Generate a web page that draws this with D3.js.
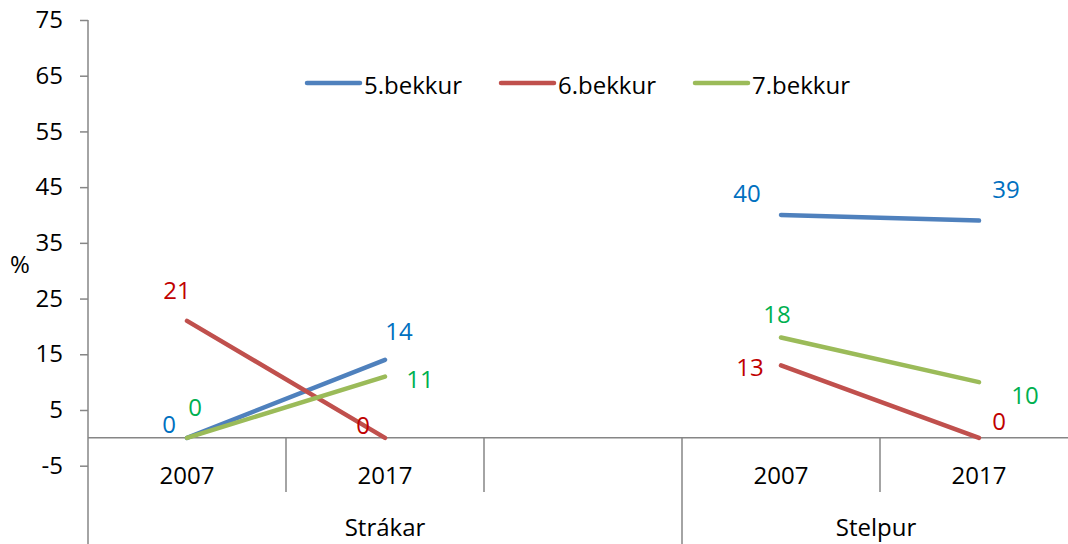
<!DOCTYPE html>
<html>
<head>
<meta charset="utf-8">
<script src="https://cdn.jsdelivr.net/npm/d3@7"></script>
<style>
  html, body { margin: 0; padding: 0; background: #fff; }
  svg { display: block; font-family: "Open Sans", "Noto Sans", sans-serif; }
</style>
</head>
<body>
<svg id="chart" width="1068" height="544"></svg>
<script>
// Share of pupils (%) by grade, boys vs girls, 2007 and 2017
const slots = ["s2007", "s2017", "gap", "g2007", "g2017"];
const yearLabels = ["2007", "2017", "", "2007", "2017"];
const groups = [
  { name: "Strákar", from: 0, to: 2 },
  { name: "Stelpur", from: 3, to: 4 }
];
const seriesNames = ["5.bekkur", "6.bekkur", "7.bekkur"];
const grade5 = [0, 14, null, 40, 39];
const grade6 = [21, 0, null, 13, 0];
const grade7 = [0, 11, null, 18, 10];
const yTicks = [-5, 5, 15, 25, 35, 45, 55, 65, 75];

const lineColors = ["#4F81BD", "#C0504D", "#9BBB59"];
const labelColors = ["#0070C0", "#C00000", "#00B050"];
// label offsets from each point (px)
const labelOffsets = [
  [[-18, -14], [14, -29], null, [-34, -22], [27, -32]],
  [[-10, -31], [-22, -13], null, [-31, 1], [20, -17]],
  [[8, -31], [35, 2], null, [-4, -24], [46, 12]]
];

const svg = d3.select("#chart");
const x = d3.scaleBand().domain(slots).range([88, 1078]).paddingInner(0).paddingOuter(0);
const y = d3.scaleLinear().domain([-5, 75]).range([465.7, 20]);
const axisColor = "#868686";
const fontSize = 24;
const fontFamily = "'Open Sans', 'Noto Sans', sans-serif";

// y axis
const yAxis = svg.append("g").attr("transform", "translate(88,0)")
  .call(d3.axisLeft(y).tickValues(yTicks).tickFormat(d => String(d)).tickSize(8).tickPadding(17));
yAxis.select(".domain").remove();
yAxis.selectAll(".tick line").attr("stroke", axisColor).attr("stroke-width", 1.5);
yAxis.selectAll(".tick text").attr("fill", "#000").style("font-size", fontSize + "px")
  .style("font-family", fontFamily);
svg.append("line").attr("x1", 88).attr("x2", 88).attr("y1", y(75)).attr("y2", 544)
  .attr("stroke", axisColor).attr("stroke-width", 1.5);

svg.append("text").attr("x", 20).attr("y", 263).attr("text-anchor", "middle")
  .attr("dominant-baseline", "central").style("font-size", fontSize + "px").text("%");

// category axis
const y0 = y(0);
svg.append("line").attr("x1", 88).attr("x2", 1068).attr("y1", y0).attr("y2", y0)
  .attr("stroke", axisColor).attr("stroke-width", 1.5);
slots.forEach((s, i) => {
  if (i === 0) return;
  const isGroupEdge = groups.some(g => g.from === i);
  svg.append("line").attr("x1", x(s)).attr("x2", x(s)).attr("y1", y0)
    .attr("y2", isGroupEdge ? 544 : 492)
    .attr("stroke", axisColor).attr("stroke-width", 1.5);
});
slots.forEach((s, i) => {
  svg.append("text").attr("x", x(s) + x.bandwidth() / 2).attr("y", 474)
    .attr("text-anchor", "middle").attr("dominant-baseline", "central")
    .style("font-size", fontSize + "px").text(yearLabels[i]);
});
groups.forEach(g => {
  const cx = (x(slots[g.from]) + x(slots[g.to]) + x.bandwidth()) / 2;
  svg.append("text").attr("x", Math.min(cx, 876)).attr("y", 526)
    .attr("text-anchor", "middle").attr("dominant-baseline", "central")
    .style("font-size", fontSize + "px").text(g.name);
});

// series lines
const allSeries = [grade5, grade6, grade7];
const line = d3.line()
  .defined(d => d.v !== null)
  .x(d => x(d.s) + x.bandwidth() / 2)
  .y(d => y(d.v));
allSeries.forEach((vals, k) => {
  const pts = vals.map((v, i) => ({ s: slots[i], v }));
  svg.append("path").datum(pts).attr("d", line).attr("fill", "none")
    .attr("stroke", lineColors[k]).attr("stroke-width", 4.5).attr("stroke-linecap", "round");
});
allSeries.forEach((vals, k) => {
  vals.forEach((v, i) => {
    if (v === null) return;
    const off = labelOffsets[k][i];
    svg.append("text").attr("x", x(slots[i]) + x.bandwidth() / 2 + off[0])
      .attr("y", y(v) + off[1]).attr("text-anchor", "middle")
      .attr("dominant-baseline", "central").attr("fill", labelColors[k])
      .style("font-size", fontSize + "px").text(v);
  });
});

// legend
const legendItems = [{ x: 307 }, { x: 501 }, { x: 695 }];
seriesNames.forEach((n, k) => {
  const lx = legendItems[k].x;
  svg.append("line").attr("x1", lx).attr("x2", lx + 53).attr("y1", 83).attr("y2", 83)
    .attr("stroke", lineColors[k]).attr("stroke-width", 4.5).attr("stroke-linecap", "round");
  svg.append("text").attr("x", lx + 57).attr("y", 84).attr("dominant-baseline", "central")
    .style("font-size", fontSize + "px").text(n);
});
</script>
</body>
</html>
